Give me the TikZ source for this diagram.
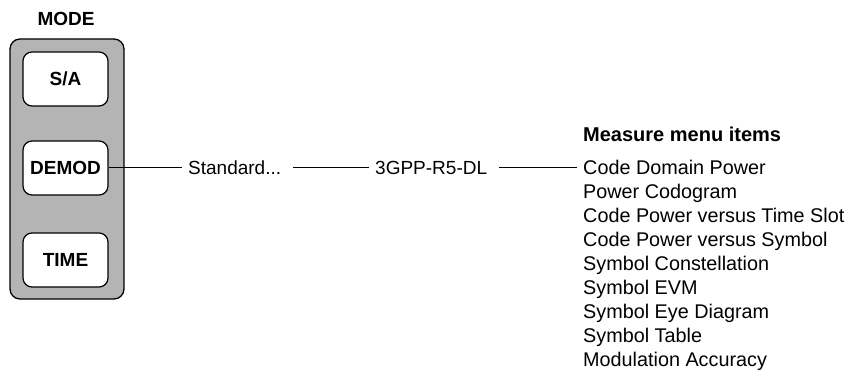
\documentclass[tikz,border=0pt]{standalone}
\usepackage{fontspec}
\setmainfont{Liberation Sans}
\definecolor{panelgray}{RGB}{180,180,180}
\tikzset{
  panel/.style={draw=black, line width=1.3pt, fill=panelgray, rounded corners=10pt},
  btn/.style={draw=black, line width=1.2pt, fill=white, rounded corners=9pt,
    minimum width=85pt, minimum height=54pt, inner sep=0pt,
    font=\fontsize{19}{22}\selectfont\bfseries},
  ttl/.style={font=\fontsize{19}{22}\selectfont\bfseries, inner sep=0pt},
  txt/.style={font=\fontsize{19}{24}\selectfont, inner xsep=6pt, inner ysep=0pt},
  item/.style={font=\fontsize{19.8}{24}\selectfont, inner sep=0pt, anchor=base west},
  conn/.style={line width=1pt}
}
\begin{document}
\begin{tikzpicture}[x=1pt,y=-1pt]
\useasboundingbox (0,0) rectangle (854,374);
\node[ttl] (mode) at (66,19) {MODE};
\draw[panel] (10,39) rectangle (124,299);
\node[btn] (sa) at (65.5,79) {S/A};
\node[btn] (demod) at (65.5,168) {DEMOD};
\node[btn] (time) at (65.5,260) {TIME};
\node[txt, anchor=base west] (std) at (182,174.5) {Standard...};
\node[txt, anchor=base west] (g3) at (369,174.5) {3GPP-R5-DL};
\node[ttl, font=\fontsize{20}{22}\selectfont\bfseries, anchor=base west] (hdr) at (583,142) {Measure menu items};
\node[item] (i1) at (583,174.5) {Code Domain Power};
\node[item] (i2) at (583,198.5) {Power Codogram};
\node[item] (i3) at (583,222.5) {Code Power versus Time Slot};
\node[item] (i4) at (583,246.5) {Code Power versus Symbol};
\node[item] (i5) at (583,270.5) {Symbol Constellation};
\node[item] (i6) at (583,294.5) {Symbol EVM};
\node[item] (i7) at (583,318.5) {Symbol Eye Diagram};
\node[item] (i8) at (583,342.5) {Symbol Table};
\node[item] (i9) at (583,366.5) {Modulation Accuracy};
\draw[conn] (demod.east) -- (demod.east -| std.west);
\draw[conn] ([xshift=6pt]std.east |- demod.east) -- (demod.east -| g3.west);
\draw[conn] ([xshift=6pt]g3.east |- demod.east) -- ([xshift=-6pt]i1.west |- demod.east);
\end{tikzpicture}
\end{document}
